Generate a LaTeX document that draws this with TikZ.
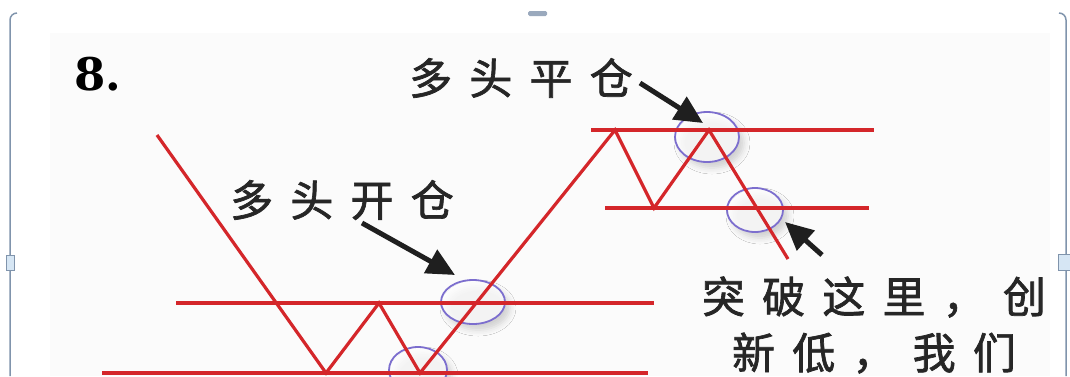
\documentclass[tikz,border=0pt]{standalone}
\usepackage{fontspec}
\newfontfamily\cjk[LetterSpace=40,FakeBold=1.6]{Noto Sans CJK SC}
\newfontfamily\numfont{DejaVu Serif}
\usetikzlibrary{arrows.meta,shapes.geometric,shadows.blur}
\definecolor{linered}{RGB}{212,38,42}
\definecolor{ringblue}{RGB}{124,110,206}
\definecolor{framegray}{RGB}{128,148,172}
\definecolor{handleblue}{RGB}{214,230,244}
\tikzset{
  price/.style={linered,line width=3.2pt},
  hline/.style={linered,line width=3.2pt},
  ring/.style={ellipse,draw=ringblue,line width=1.8pt,inner sep=0pt,fill=white,fill opacity=0.75,
    blur shadow={shadow xshift=5pt,shadow yshift=-6pt,shadow opacity=22,shadow blur radius=6pt}},
  pointer/.style={-{Triangle[length=28pt,width=26pt]},line width=5pt,draw=black!88},
  cjktext/.style={inner sep=0pt,anchor=west,text=black!85,font=\cjk\fontsize{43}{56}\selectfont},
}
\begin{document}
\begin{tikzpicture}[x=1pt,y=-1pt]
\useasboundingbox (0,0) rectangle (1070,376);
% sheet and frame
\fill[gray!3] (50,33) rectangle (1050,376);
\draw[framegray,line width=1.5pt] (17,13) to[out=180,in=90] (10,20) -- (10,376);
\draw[framegray,line width=1.5pt] (1059,13) to[out=0,in=90] (1066,20) -- (1066,376);
\draw[framegray,line width=1pt,fill=handleblue] (6,255) rectangle (14,270);
\draw[framegray,line width=1pt,fill=handleblue] (1058,254) rectangle (1070,270);
\fill[framegray!80,rounded corners=1.5pt] (528,11) rectangle (547,16);

% circles
\foreach \x/\y/\w/\h [count=\n] in {418/370/58/46, 473/302/64/44, 707/137/64/50, 755/210/56/44}
  \node[ring,minimum width=\w*1pt,minimum height=\h*1pt] (C\n) at (\x,\y) {};

% levels and price
\foreach \a/\b/\y in {102/648/373, 176/654/303, 591/874/130, 605/869/208}
  \draw[hline] (\a,\y) -- (\b,\y);
\draw[price] (157,135) -- (326,373) -- (379,303) -- (420,373) -- (615,130)
  -- (654,208) -- (709,130) -- (788,259);

% labels
\node[font=\numfont\bfseries\fontsize{45}{45}\selectfont,inner sep=0pt,anchor=west] (num) at (74,74) {8.};
\node[cjktext] (close) at (409,78) {多头平仓};
\node[cjktext] (open) at (230,200) {多头开仓};
\node[cjktext,anchor=center,align=center] (note) at (874,325) {突破这里，创\\新低，我们};

\coordinate (t1) at (362,223);
\coordinate (t2) at (640,83);
\coordinate (t3) at (822,255);
\draw[pointer] (t1) -- ([shift={(-18,-27)}]C2.center);
\draw[pointer] (t2) -- ([shift={(-4,-14)}]C3.center);
\draw[pointer] (t3) -- ([shift={(30,12)}]C4.center);
\end{tikzpicture}
\end{document}
